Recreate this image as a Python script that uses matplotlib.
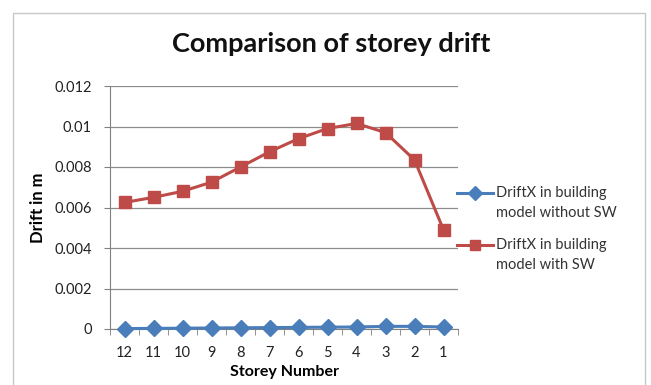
import matplotlib
matplotlib.use("Agg")
import matplotlib.pyplot as plt
from matplotlib.lines import Line2D
from matplotlib.patches import Rectangle
from matplotlib.ticker import FixedLocator, NullFormatter

plt.rcParams['font.family'] = ['Lato', 'DejaVu Sans']

storeys = ['12', '11', '10', '9', '8', '7', '6', '5', '4', '3', '2', '1']
drift_without_sw = [0.00002, 0.00003, 0.00004, 0.00005, 0.00006, 0.00007,
                    0.00008, 0.00009, 0.00010, 0.00013, 0.00013, 0.00010]
drift_with_sw = [0.00625, 0.0065, 0.0068, 0.00725, 0.0080, 0.00875,
                 0.0094, 0.0099, 0.01015, 0.0097, 0.00835, 0.0049]
y_ticks = [0, 0.002, 0.004, 0.006, 0.008, 0.01, 0.012]
y_tick_labels = ['0', '0.002', '0.004', '0.006', '0.008', '0.01', '0.012']
series_labels = [['DriftX in building', 'model without SW'],
                 ['DriftX in building', 'model with SW']]

BLUE = '#4a7ebb'
RED = '#be4b48'
W, H = 651, 385

fig = plt.figure(figsize=(W / 100, H / 100), dpi=100)
fig.patch.set_facecolor('white')
# chart-area border
fig.patches.append(Rectangle((13 / W, -0.02), 632 / W, 1 - 13 / H + 0.02,
                             transform=fig.transFigure, fill=False,
                             edgecolor='#c8c8c8', linewidth=1.0))

ax = fig.add_axes([110 / W, 1 - 329 / H, 348 / W, 243 / H])
x = list(range(len(storeys)))

ax.plot(x, drift_without_sw, color=BLUE, marker='D', markersize=8,
        linewidth=2.2, zorder=3, clip_on=False)
ax.plot(x, drift_with_sw, color=RED, marker='s', markersize=8.5,
        linewidth=2.2, zorder=3, clip_on=False)

ax.set_xlim(-0.5, len(storeys) - 0.5)
ax.set_ylim(0, 0.012)
ax.set_yticks(y_ticks)
ax.set_yticklabels(y_tick_labels)
ax.set_xticks(x)
ax.set_xticklabels(storeys)
ax.xaxis.set_minor_locator(FixedLocator([i - 0.5 for i in range(len(storeys) + 1)]))
ax.xaxis.set_minor_formatter(NullFormatter())
ax.tick_params(axis='x', which='major', length=0, pad=12, labelsize=10.5, colors='#222222')
ax.tick_params(axis='x', which='minor', length=4, color='#808080', direction='out')
ax.tick_params(axis='y', length=4, color='#808080', labelsize=10.5, pad=9, colors='#222222')

ax.grid(axis='y', color='#8c8c8c', linewidth=0.9)
ax.set_axisbelow(True)
for side in ['top', 'right']:
    ax.spines[side].set_visible(False)
ax.spines['left'].set_color('#808080')
ax.spines['bottom'].set_color('#808080')

fig.text(331 / W, 1 - 44 / H, 'Comparison of storey drift', fontsize=19.5,
         fontweight='bold', ha='center', va='center', color='#111111')
ax.set_xlabel('Storey Number', fontsize=11.5, fontweight='bold', labelpad=4)
ax.set_ylabel('Drift in m', fontsize=12, fontweight='bold', labelpad=6)

# legend entries
legend_rows = [(193, BLUE, 'D', 7), (245, RED, 's', 7.5)]
for (y_px, color, marker, ms), lines in zip(legend_rows, series_labels):
    yf = 1 - y_px / H
    fig.add_artist(Line2D([457 / W, 493 / W], [yf, yf], color=color, linewidth=2.2,
                          marker=None, transform=fig.transFigure))
    fig.add_artist(Line2D([475 / W], [yf], color=color, marker=marker, markersize=ms,
                          transform=fig.transFigure))
    for k, line in enumerate(lines):
        fig.text(496 / W, 1 - (y_px + 20 * k) / H, line, fontsize=10.5,
                 ha='left', va='center', color='#333333')

fig.savefig('out.png', dpi=100)
